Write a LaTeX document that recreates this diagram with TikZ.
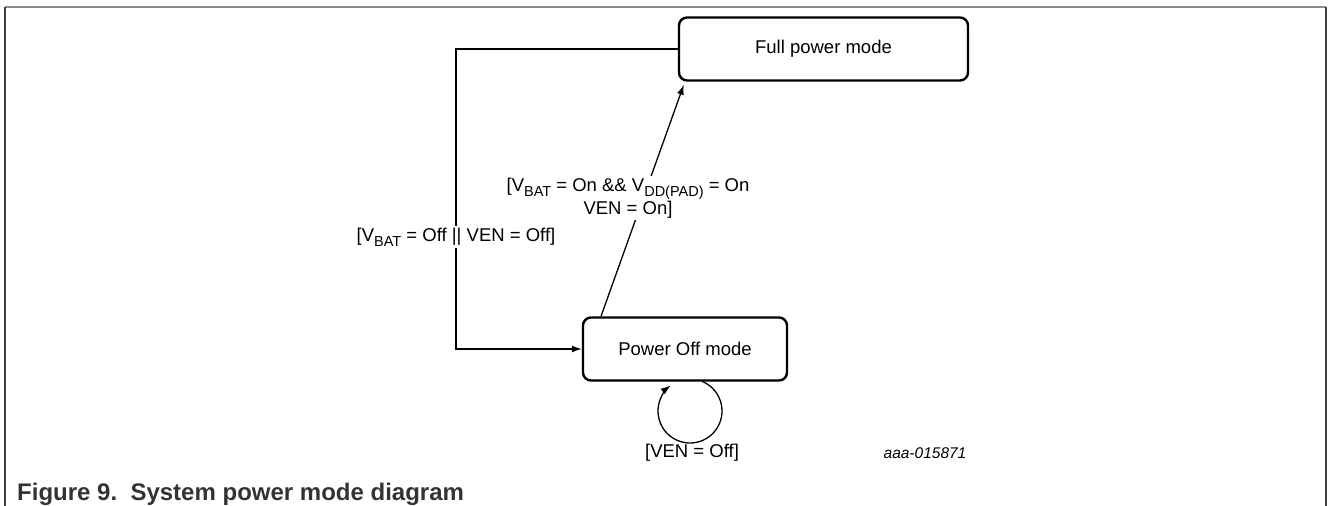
\documentclass[tikz,border=0pt]{standalone}
\usepackage{fontspec}
\setmainfont{Liberation Sans}
\usetikzlibrary{arrows.meta}
\newcommand{\lsub}[1]{\raisebox{-0.28em}{\fontsize{14.5}{14.5}\selectfont #1}}
\begin{document}
\begin{tikzpicture}[x=1pt,y=1pt,
  state/.style={draw, line width=2.4pt, rounded corners=8pt, minimum width=#1, minimum height=63pt, inner sep=0pt, font=\fontsize{18.5}{22}\selectfont},
  conn/.style={line width=1.3pt, -{Latex[length=10pt,width=7pt]}},
  lbl/.style={font=\fontsize{18.5}{21}\selectfont, align=center, inner sep=2pt},
  frameside/.style={line width=1.6pt, black!75}]
\useasboundingbox (0,0) rectangle (1328,-506);
% frame
\draw[line width=2pt, black!45] (5,-7) -- (1326,-7);
\draw[frameside] (5,-7) -- (5,-506);
\draw[frameside] (1326,-7) -- (1326,-506);
% states
\node[state=289pt] (full) at (823.5,-49) {Full power mode};
\node[state=204pt] (off) at (685,-349) {Power Off mode};
% left connector
\coordinate (tl) at (456,-49);
\draw[conn] (full.west) -- (tl) |- (off.west);
\node[lbl, fill=white] (l1) at (456,-237) {[V\lsub{BAT} = Off || VEN = Off]};
% diagonal
\draw[conn] ([xshift=-84pt]off.north) -- ([xshift=6pt,yshift=-3pt]full.south west);
\node[lbl, fill=white] (l2) at (628,-198) {[V\lsub{BAT} = On \&\& V\lsub{DD(PAD)} = On\\VEN = On]};
% self loop
\coordinate (lc) at (690,-411);
\draw[conn] ([shift={(68:32)}]lc) arc[start angle=68, end angle=-233, radius=32];
\node[lbl] (l3) at (692,-453) {[VEN = Off]};
% id
\node[font=\fontsize{15.5}{18}\selectfont\itshape, inner sep=0pt] (id) at (925,-453) {aaa-015871};
% caption
\node[anchor=base west, font=\fontsize{24}{28}\selectfont\bfseries, text=black!80, inner sep=0pt] (cap) at (17,-500) {Figure 9.\ \ System power mode diagram};
\end{tikzpicture}
\end{document}
